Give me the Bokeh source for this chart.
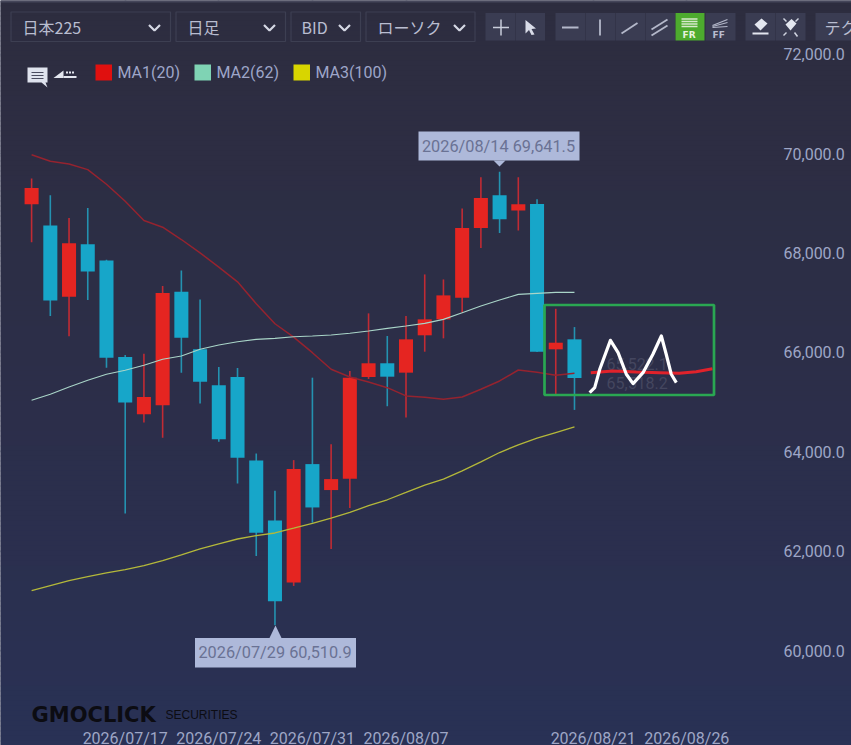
from bokeh.plotting import figure
from bokeh.embed import file_html
from bokeh.resources import INLINE
from bokeh.core.properties import value
from bokeh.models import (Label, FixedTicker, NumeralTickFormatter, ColumnDataSource, Range1d)

# ---------- data ----------
opens  = [68985,68557,67121,68181,67853,65909,64758,64939,67222,66064,65341,65507,63825,62619,61367,63753,63230,63457,65507,65783,65594,66346,66667,67101,68508,69166,68858,68991,66064,66265]
highs  = [69501,69166,68709,68910,67869,65950,65976,67337,67652,67069,65708,65688,63966,63216,63833,65493,64155,65628,66788,66332,66734,67572,67471,68898,69527,69641.5,69527,69085,66880,66512]
lows   = [68221,66734,66325,67055,65694,62760,64589,64281,65594,64971,64201,63363,61903,60510.9,61300,62573,62044,62868,65467,64918,64689,66016,66285,66800,68106,68408,68456,66010,65166,64844]
closes = [69312,67049,68201,67632,65895,64991,65105,67196,66297,65413,64255,63879,62372,60991,63652,62880,63451,65493,65783,65513,66265,66667,67150,68508,69111,68683,68985,66016,66197,65487]
ma1 = [69980,69849,69795,69682,69387,69045,68657,68522,68275,68006,67718,67423,66981,66579,66311,65996,65662,65507,65407,65292,65126,65099,65059,65105,65260,65427,65648,65602,65542,65582]
ma2 = [65039,65160,65306,65441,65562,65642,65743,65863,65930,66064,66151,66217,66265,66285,66318,66332,66352,66386,66432,66486,66533,66587,66667,66800,66935,67055,67170,67190,67210,67210]
ma3 = [61206,61307,61407,61487,61562,61628,61709,61809,61924,62044,62145,62245,62312,62366,62462,62559,62667,62780,62915,63035,63182,63331,63451,63618,63799,63986,64141,64275,64388,64502]
drawn_red_x = [29.87,31.04,32.3,33.55,34.6,35.5,36.37]
drawn_red_y = [65594,65628,65608,65594,65582,65614,65674]
drawn_white_x = [29.81,30.08,30.35,30.92,31.33,31.77,32.13,32.66,33.19,33.64,33.9,34.17,34.44]
drawn_white_y = [65192,65292,65662,66245,65996,65562,65373,65594,65964,66332,65964,65562,65393]
date_ticks = [5,10,15,20,30,35]
date_labels = ["2026/07/17","2026/07/24","2026/07/31","2026/08/07","2026/08/21","2026/08/26"]
price_ticks = [60000,62000,64000,66000,68000,70000,72000]
legend_names = ["MA1(20)","MA2(62)","MA3(100)"]
legend_colors = ["#e0100f","#7fd3b4","#d8d500"]
hi_label = "2026/08/14 69,641.5"
lo_label = "2026/07/29 60,510.9"
dropdowns = ["日本225","日足","BID","ローソク"]

# ---------- reference-pixel helpers for the decorations ----------
def X(px): return (px-31.1)/18.72
def Y(py): return 60000+(650-py)*20.134

W,H=851,745
CJK = "Noto Sans CJK JP"
p = figure(width=W, height=H, output_backend="svg", toolbar_location=None,
           x_range=Range1d(X(0),X(W)), y_range=Range1d(Y(H),Y(0)),
           y_axis_location="right", min_border=0)
p.background_fill_color="#2b2f4b"; p.border_fill_color="#2b2f4b"; p.outline_line_color=None

# vertical background gradient
def mix(t):
    stops=[(0,(45,45,63)),(380,(44,46,73)),(745,(41,49,85))]
    for (a,ca),(b,cb) in zip(stops,stops[1:]):
        if t<=b:
            f=(t-a)/(b-a)
            return "#%02x%02x%02x"%tuple(round(u+(v-u)*f) for u,v in zip(ca,cb))
bands=list(range(0,H,5))
p.quad(left=[X(0)]*len(bands),right=[X(W)]*len(bands),top=[Y(b) for b in bands],bottom=[Y(b+6) for b in bands],
       fill_color=[mix(b) for b in bands],line_color=None)
p.quad(left=[X(0)],right=[X(W)],top=[Y(0)],bottom=[Y(2)],fill_color="#45465a",line_color=None)

for ax,t in ((p.xaxis[0],date_ticks),(p.yaxis[0],price_ticks)):
    ax.ticker=FixedTicker(ticks=t)
    ax.axis_line_color=None; ax.major_tick_line_color=None; ax.minor_tick_line_color=None
    ax.major_label_text_font="Roboto"; ax.major_label_text_font_size="16px"
    ax.major_label_text_color="#9ea6c6"
p.xaxis[0].major_label_overrides=dict(zip(date_ticks,date_labels))
p.xaxis[0].fixed_location=Y(722)
p.xaxis[0].major_label_standoff=0
p.yaxis[0].fixed_location=X(768)
p.yaxis[0].formatter=NumeralTickFormatter(format="0,0.0")
p.yaxis[0].major_label_standoff=9
p.xgrid[0].ticker=FixedTicker(ticks=date_ticks); p.ygrid[0].ticker=FixedTicker(ticks=price_ticks)
p.xgrid[0].bounds=(Y(730),Y(48)); p.ygrid[0].bounds=(X(22),X(768))
for g in (p.xgrid[0],p.ygrid[0]):
    g.grid_line_color="#4a4c66"; g.grid_line_width=1.5

# faint text behind the chart
p.text([X(606),X(606)],[Y(363),Y(382.5)],text=["65,522.1","65,518.2"],text_font=value("Roboto"),
       text_font_size="16px",text_color="#44465f",text_baseline="middle")

# candles
idx=list(range(len(opens)))
up=[c>o for o,c in zip(opens,closes)]
src=ColumnDataSource(dict(x=idx,h=highs,l=lows,top=[max(o,c) for o,c in zip(opens,closes)],
    bot=[min(o,c) for o,c in zip(opens,closes)],
    wick=["#c12b34" if u else "#2492b0" for u in up],
    body=["#e52521" if u else "#17a6c9" for u in up]))
p.segment("x","h","x","l",source=src,line_color="wick",line_width=1.6)
p.vbar("x",0.75,"bot","top",source=src,fill_color="body",line_color=None)

# moving averages
p.line(idx,ma1,line_color="#95232f",line_width=1.5)
p.line(idx,ma2,line_color="#a9d5c8",line_width=1.1)
p.line(idx,ma3,line_color="#b4b83a",line_width=1.3)

# hand-drawn overlays
p.line(drawn_red_x,drawn_red_y,line_color="#e0222b",line_width=3)
p.line(drawn_white_x,drawn_white_y,line_color="#ffffff",line_width=3.2,line_join="round")
p.quad(left=[X(544)],right=[X(713.5)],top=[Y(304.5)],bottom=[Y(394.5)],fill_color=None,
       line_color="#2aa752",line_width=2.7)

# high/low callouts
TIP="#aeb9da"
def callout(left,right,top,bottom,xtip,ytip,ybase,txt):
    p.quad(left=[X(left)],right=[X(right)],top=[Y(top)],bottom=[Y(bottom)],fill_color=TIP,line_color=None)
    p.patch([X(xtip-6),X(xtip),X(xtip+6)],[Y(ybase),Y(ytip),Y(ybase)],fill_color=TIP,line_color=None)
    p.text([X((left+right)/2-0.5)],[Y((top+bottom)/2)],text=[txt],text_font=value("Roboto"),text_font_size="16.3px",
           text_color="#6a7294",text_align="center",text_baseline="middle")
callout(418,579,131,160,499,166,160,hi_label)
callout(194.5,355.5,637.5,667,275,625,637.5,lo_label)

# decoration helpers
def box(l,r,t,b,fill,line=None,w=1):
    p.quad(left=[X(l)],right=[X(r)],top=[Y(t)],bottom=[Y(b)],fill_color=fill,line_color=line,line_width=w)
def text(x,y,s,size="15px",color="#b9bdd0",font="Roboto",style="normal"):
    p.add_layout(Label(x=X(x),y=Y(y),text=s,text_font=font,text_font_size=size,text_color=color,
                       text_baseline="middle",text_font_style=style))
def poly(pts,fill):
    p.patch([X(a) for a,_ in pts],[Y(b) for _,b in pts],fill_color=fill,line_color=None)
def pl(pts,color="#c9cddb",w=1.5):
    p.line([X(a) for a,_ in pts],[Y(b) for _,b in pts],line_color=color,line_width=w)

# toolbar: dropdowns
for (l,r),s,tx,cx in zip([(10.5,170),(175.5,285),(290.5,360),(365.5,474.5)],dropdowns,[22,187,301,377],[154,269,344,459]):
    box(l,r,11.5,41,None,"#3d3f52",1.2)
    text(tx,26,s,"16px","#b9bdd0",CJK)
    pl([(cx-5.5,24.5),(cx,30),(cx+5.5,24.5)],"#d5d8e4",2.2)

# toolbar: buttons
BTN="#3a3c52"
for l,r in [(485,514.5),(515,544.5),(555,584.5),(585,614.5),(615,644.5),(645,674.5),(705,735),(745,774.5),(775,805),(815,860)]:
    box(l,r,12.5,40,BTN)
box(675,704,12.5,40,"#4dab2e")
pl([(492.5,27),(508.5,27)],"#c9cddb"); pl([(500.5,19),(500.5,35)],"#c9cddb")
poly([(525,19.5),(535.5,28),(531,28.5),(534,34),(531,34.5),(528.5,29.5),(525,33)],"#d9dce8")
pl([(561.5,27),(578,27)],"#b4b8ca",1.8); pl([(599.5,19),(599.5,35)],"#b4b8ca",1.8)
pl([(621,33),(637,22.5)],"#b4b8ca",1.8)
pl([(651,29),(667,19)],"#b4b8ca",1.8); pl([(651,35),(667,25)],"#b4b8ca",1.8)
for yy in (18.5,21,23.5,26):
    pl([(681,yy),(697,yy)],"#d7e9cc",1.4)
text(682,34,"FR","9px","#e6f2dd","DejaVu Sans","bold")
pl([(712,25),(727,19)],"#b4b8ca",1.2); pl([(712,26),(727,22)],"#b4b8ca",1.2); pl([(712,27),(727,26)],"#b4b8ca",1.2)
text(712,34,"FF","9px","#b9bdd0","DejaVu Sans","bold")
poly([(754,24),(761,18),(767,23),(760,30)],"#e3e6ef")
pl([(752,33),(768,33)],"#e3e6ef",1.8)
poly([(785,24),(791,18.5),(796,23),(790,30)],"#e3e6ef")
pl([(783,18),(786,21)],"#d0d4e0",1.5); pl([(797,36),(794,32)],"#d0d4e0",1.5)
pl([(783,35),(786,32)],"#d0d4e0",1.5); pl([(798,18),(795,21)],"#d0d4e0",1.5)
text(824,26,"テク","16px","#b9bdd0",CJK)

# legend row
poly([(27,67),(47,67),(47,82),(45,82),(47,87),(41,82),(27,82)],"#dfe3ee")
for yy in (72,75,78):
    pl([(31,yy),(43,yy)],"#4a4c60",1)
poly([(53,77.5),(63,70),(63,77.5)],"#e3e6ef")
box(63,76,75.5,77.5,"#e3e6ef")
for dx in (65.5,68.5,71.5):
    box(dx,dx+2,71,73,"#e3e6ef")
for (sx,tx),name,col in zip([(95,117),(194,216),(293,315)],legend_names,legend_colors):
    box(sx,sx+16.5,64,80,col)
    text(tx,71.5,name,"16px","#9ea6c9")

# watermark
text(31,714,"GMOCLICK","21px","#0c0c12","DejaVu Sans","bold")
text(165,714.5,"SECURITIES","12px","#0c0c12","Liberation Sans")

open("out.html","w").write(file_html(p, INLINE))
